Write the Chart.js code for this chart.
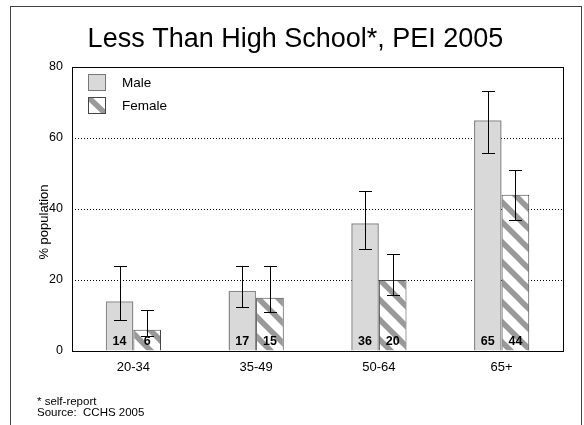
<!DOCTYPE html>
<html>
<head>
<meta charset="utf-8">
<script src="https://cdn.jsdelivr.net/npm/chart.js@4.4.1/dist/chart.umd.min.js"></script>
<style>
  html, body { margin: 0; padding: 0; background: #fff; }
</style>
</head>
<body>
<canvas id="chartEscolaridade" width="584" height="425"></canvas>
<script>
// grupos de idade e percentuais (%)
const categorias = ['20-34', '35-49', '50-64', '65+'];
const masculino = [14, 17, 36, 65];
const feminino = [6, 15, 20, 44];
// intervalos de confianca
const mascMin = [8.7, 12.4, 28.7, 55.7];
const mascMax = [24, 24, 45, 73.2];
const femMin = [4.2, 11, 15.8, 37];
const femMax = [11.5, 24, 27.3, 51];
const yTicks = [0, 20, 40, 60, 80];
const notas = ['* self-report', 'Source:  CCHS 2005'];

const FONTE = "'Liberation Sans', Arial, sans-serif";

function criarListras() {
    const s = 20;
    const c = document.createElement('canvas');
    c.width = s; c.height = s;
    const ctx = c.getContext('2d');
    ctx.fillStyle = '#fff';
    ctx.fillRect(0, 0, s, s);
    ctx.strokeStyle = '#999';
    ctx.lineWidth = 5.5;
    for (let k = -1; k <= 1; k++) {
        ctx.beginPath();
        ctx.moveTo(-s, -s + k * s);
        ctx.lineTo(2 * s, 2 * s + k * s);
        ctx.stroke();
    }
    return ctx.createPattern(c, 'repeat');
}
const listras = criarListras();

const pluginExtras = {
    id: 'extras',
    beforeDraw(chart) {
        const ctx = chart.ctx;
        ctx.save();
        ctx.strokeStyle = '#444';
        ctx.lineWidth = 1;
        ctx.strokeRect(10.5, 6.5, 571, 500);
        ctx.restore();
    },
    afterDatasetsDraw(chart) {
        const ctx = chart.ctx;
        const y = chart.scales.y;
        const a = chart.chartArea;
        ctx.save();
        // caixa da area do grafico
        ctx.setLineDash([]);
        ctx.strokeStyle = '#000';
        ctx.lineWidth = 1;
        ctx.strokeRect(Math.round(a.left) + 0.5, Math.round(a.top) + 0.5,
            Math.round(a.right - a.left), Math.round(a.bottom - a.top));

        const faixas = [[mascMin, mascMax], [femMin, femMax]];
        chart.data.datasets.forEach((ds, di) => {
            const meta = chart.getDatasetMeta(di);
            meta.data.forEach((bar, i) => {
                const x = Math.round(bar.x) + 0.5;
                const y1 = Math.round(y.getPixelForValue(faixas[di][0][i])) + 0.5;
                const y2 = Math.round(y.getPixelForValue(faixas[di][1][i])) + 0.5;
                ctx.strokeStyle = '#000';
                ctx.lineWidth = 1;
                ctx.beginPath();
                ctx.moveTo(x, y1); ctx.lineTo(x, y2);
                ctx.moveTo(x - 6.5, y1); ctx.lineTo(x + 6.5, y1);
                ctx.moveTo(x - 6.5, y2); ctx.lineTo(x + 6.5, y2);
                ctx.stroke();

                ctx.fillStyle = '#000';
                ctx.font = 'bold 12.5px ' + FONTE;
                ctx.textAlign = 'center';
                ctx.textBaseline = 'middle';
                ctx.fillText(String(ds.data[i]), bar.x, a.bottom - 9);
            });
        });
        ctx.restore();
    },
    afterDraw(chart) {
        const ctx = chart.ctx;
        const a = chart.chartArea;
        ctx.save();
        // legenda
        ctx.lineWidth = 1;
        ctx.fillStyle = '#d9d9d9';
        ctx.fillRect(88.5, 74.5, 17, 16);
        ctx.strokeStyle = '#777';
        ctx.strokeRect(88.5, 74.5, 17, 16);

        ctx.fillStyle = '#fff';
        ctx.fillRect(88.5, 97.5, 17, 16);
        ctx.save();
        ctx.beginPath();
        ctx.rect(88.5, 97.5, 17, 16);
        ctx.clip();
        ctx.strokeStyle = '#999';
        ctx.lineWidth = 5.5;
        ctx.beginPath();
        ctx.moveTo(86, 95); ctx.lineTo(108, 116);
        ctx.stroke();
        ctx.restore();
        ctx.strokeStyle = '#444';
        ctx.lineWidth = 1;
        ctx.strokeRect(88.5, 97.5, 17, 16);

        ctx.fillStyle = '#000';
        ctx.font = '13.5px ' + FONTE;
        ctx.textAlign = 'left';
        ctx.textBaseline = 'middle';
        ctx.fillText('Male', 122, 83);
        ctx.fillText('Female', 122, 106);

        // titulo do eixo y, um pouco abaixo do centro
        ctx.save();
        ctx.translate(44, (a.top + a.bottom) / 2 + 13);
        ctx.rotate(-Math.PI / 2);
        ctx.textAlign = 'center';
        ctx.font = '13px ' + FONTE;
        ctx.fillText('% population', 0, 0);
        ctx.restore();

        // notas de rodape
        ctx.font = '11.5px ' + FONTE;
        ctx.fillText(notas[0], 37, 402);
        ctx.fillText(notas[1], 37, 413);
        ctx.restore();
    }
};

const data = {
    labels: categorias,
    datasets: [
        {
            label: 'Male',
            data: masculino,
            backgroundColor: '#d9d9d9',
            borderColor: '#8a8a8a',
            borderWidth: 1.5
        },
        {
            label: 'Female',
            data: feminino,
            backgroundColor: listras,
            borderColor: '#444',
            borderWidth: 1
        }
    ]
};

const canvas = document.getElementById('chartEscolaridade');
canvas.chart = new Chart(canvas, {
    type: 'bar',
    data: data,
    plugins: [pluginExtras],
    options: {
        responsive: false,
        animation: false,
        layout: { padding: { top: 0, left: 28, right: 21, bottom: 0 } },
        datasets: {
            bar: { categoryPercentage: 0.45, barPercentage: 1.0 }
        },
        plugins: {
            legend: { display: false },
            tooltip: { enabled: false },
            title: {
                display: true,
                text: 'Less Than High School*, PEI 2005',
                color: '#000',
                font: { family: FONTE, size: 27, weight: 'normal' },
                padding: { top: 23.6, bottom: 11 }
            }
        },
        scales: {
            x: {
                grid: { display: false },
                border: { display: false },
                ticks: {
                    color: '#000',
                    font: { family: FONTE, size: 13 },
                    padding: 1
                },
                afterFit(scale) { scale.height = 74; }
            },
            y: {
                min: 0,
                max: 80,
                afterBuildTicks(scale) {
                    scale.ticks = yTicks.map(v => ({ value: v }));
                },
                grid: { color: '#000', lineWidth: 1, drawTicks: false },
                border: { display: false, dash: [1, 2] },
                ticks: {
                    color: '#000',
                    font: { family: FONTE, size: 12.5 },
                    padding: 9
                },
                afterFit(scale) { scale.width = 44; }
            }
        }
    }
});
</script>
</body>
</html>
